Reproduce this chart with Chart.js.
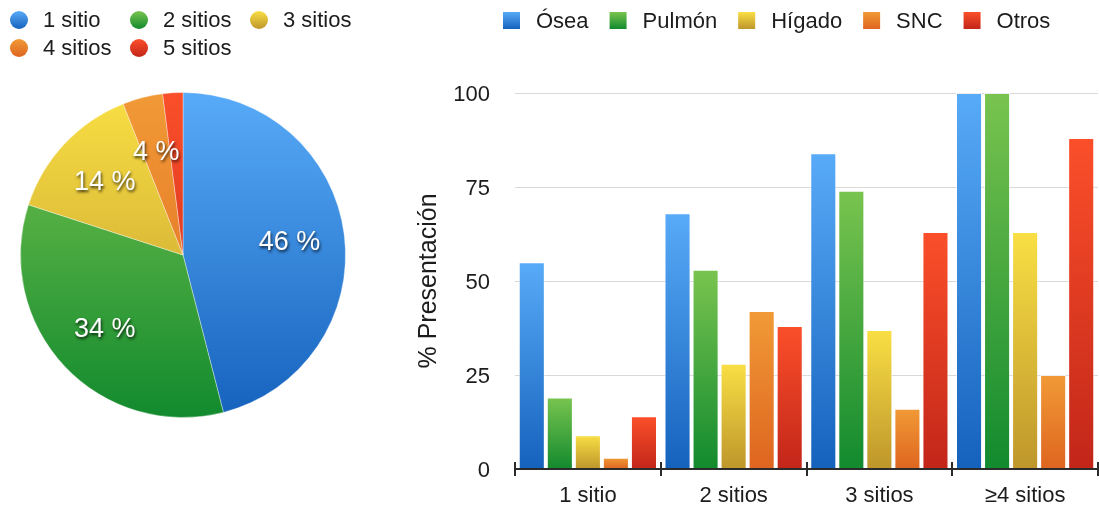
<!DOCTYPE html>
<html>
<head>
<meta charset="utf-8">
<script src="https://cdn.jsdelivr.net/npm/chart.js@4.4.1/dist/chart.umd.min.js"></script>
<style>
  html, body { margin: 0; padding: 0; background: #ffffff; }
  #wrap { position: relative; width: 1099px; height: 510px; overflow: hidden; }
  #pieBox { position: absolute; left: 0; top: 0; width: 370px; height: 510px; }
  #barBox { position: absolute; left: 370px; top: 0; width: 729px; height: 510px; }
</style>
</head>
<body>
<div id="wrap">
  <div id="pieBox"><canvas id="pie" width="370" height="510"></canvas></div>
  <div id="barBox"><canvas id="bar" width="729" height="510"></canvas></div>
</div>
<script>
// ---- data ----
const siteLabels = ['1 sitio', '2 sitios', '3 sitios', '4 sitios', '5 sitios'];
const siteShares = [46, 34, 14, 4, 2];
const minLabelShare = 3;

const groupLabels = ['1 sitio', '2 sitios', '3 sitios', '≥4 sitios'];
const organNames = ['Ósea', 'Pulmón', 'Hígado', 'SNC', 'Otros'];
const osea   = [55, 68, 84, 100];
const pulmon = [19, 53, 74, 100];
const higado = [9, 28, 37, 63];
const snc    = [3, 42, 16, 25];
const otros  = [14, 38, 63, 88];
const yTicks = [0, 25, 50, 75, 100];

// ---- styling ----
const FONT = '"Liberation Sans", Arial, Helvetica, sans-serif';
const INK = '#1c1c1c';
// light (top) / dark (bottom) pairs for the glossy vertical fills
const palette = [
  ['#58abf8', '#1562bd'],
  ['#79c44f', '#128a2e'],
  ['#f9df44', '#be962b'],
  ['#f19a36', '#de6520'],
  ['#fb4f2a', '#c22619']
];

function vGrad(ctx, y0, y1, pair) {
  if (!isFinite(y0) || !isFinite(y1) || y0 === y1) return pair[1];
  const g = ctx.createLinearGradient(0, y0, 0, y1);
  g.addColorStop(0, pair[0]);
  g.addColorStop(1, pair[1]);
  return g;
}

// ---- pie: site count distribution ----
const pieLegendPlugin = {
  id: 'pieLegend',
  afterDraw(chart) {
    const ctx = chart.ctx;
    ctx.save();
    ctx.font = '22px ' + FONT;
    ctx.textBaseline = 'middle';
    ctx.textAlign = 'left';
    siteLabels.forEach((lab, i) => {
      const col = i % 3, row = Math.floor(i / 3);
      const cx = 19 + col * 120, cy = 20 + row * 28;
      ctx.beginPath();
      ctx.arc(cx, cy, 9, 0, Math.PI * 2);
      ctx.fillStyle = vGrad(ctx, cy - 9, cy + 9, palette[i]);
      ctx.fill();
      ctx.fillStyle = INK;
      ctx.fillText(lab, cx + 24, cy + 1);
    });
    ctx.restore();
  }
};

const pieValuePlugin = {
  id: 'pieValues',
  afterDatasetsDraw(chart) {
    const ctx = chart.ctx;
    const meta = chart.getDatasetMeta(0);
    ctx.save();
    ctx.font = '27px ' + FONT;
    ctx.fillStyle = '#ffffff';
    ctx.textAlign = 'center';
    ctx.textBaseline = 'middle';
    ctx.shadowColor = 'rgba(0,0,0,0.75)';
    ctx.shadowBlur = 3;
    ctx.shadowOffsetX = 1;
    ctx.shadowOffsetY = 2;
    meta.data.forEach((arc, i) => {
      const v = chart.data.datasets[0].data[i];
      if (v < minLabelShare) return;
      const p = arc.getProps(['x', 'y', 'startAngle', 'endAngle', 'outerRadius'], true);
      const mid = (p.startAngle + p.endAngle) / 2;
      const r = p.outerRadius * 0.66;
      ctx.fillText(v + ' %', p.x + Math.cos(mid) * r, p.y + Math.sin(mid) * r + 1);
    });
    ctx.restore();
  }
};

new Chart(document.getElementById('pie'), {
  type: 'pie',
  data: {
    labels: siteLabels,
    datasets: [{
      data: siteShares,
      backgroundColor: (c) => {
        const a = c.chart.chartArea;
        const pair = palette[c.dataIndex % palette.length];
        if (!a) return pair[1];
        return vGrad(c.chart.ctx, a.top, a.bottom, pair);
      },
      borderColor: 'rgba(255,255,255,0.35)',
      borderWidth: 1
    }]
  },
  options: {
    responsive: false,
    animation: false,
    devicePixelRatio: 1,
    layout: { padding: { left: 20, right: 24, top: 92, bottom: 92 } },
    plugins: { legend: { display: false }, tooltip: { enabled: false } }
  },
  plugins: [pieLegendPlugin, pieValuePlugin]
});

// ---- bars: presentation by organ ----
const organSeries = [osea, pulmon, higado, snc, otros];

const barLegendPlugin = {
  id: 'barLegend',
  afterDraw(chart) {
    const ctx = chart.ctx;
    ctx.save();
    ctx.font = '22px ' + FONT;
    ctx.textBaseline = 'middle';
    ctx.textAlign = 'left';
    let x = 503 - 370;
    const top = 12, size = 17;
    chart.data.datasets.forEach((ds, i) => {
      ctx.fillStyle = vGrad(ctx, top, top + size, palette[i]);
      ctx.fillRect(x, top, size, size);
      const tx = x + 33;
      ctx.fillStyle = INK;
      ctx.fillText(ds.label, tx, top + size / 2 + 1);
      x = tx + ctx.measureText(ds.label).width + 21;
    });
    ctx.restore();
  }
};

const axisLinePlugin = {
  id: 'axisLine',
  afterDatasetsDraw(chart) {
    const ctx = chart.ctx;
    const xs = chart.scales.x;
    const y0 = chart.scales.y.getPixelForValue(0);
    const n = chart.data.labels.length;
    ctx.save();
    ctx.strokeStyle = '#2b2b2b';
    ctx.lineWidth = 2;
    ctx.beginPath();
    ctx.moveTo(xs.left, y0);
    ctx.lineTo(xs.right, y0);
    for (let i = 0; i <= n; i++) {
      const bx = Math.round(xs.left + i * (xs.right - xs.left) / n);
      ctx.moveTo(bx, y0 - 7);
      ctx.lineTo(bx, y0 + 7);
    }
    ctx.stroke();
    ctx.restore();
  }
};

new Chart(document.getElementById('bar'), {
  type: 'bar',
  data: {
    labels: groupLabels,
    datasets: organNames.map((name, i) => ({
      label: name,
      data: organSeries[i],
      backgroundColor: (c) => {
        const pair = palette[i];
        const ch = c.chart;
        const ys = ch.scales && ch.scales.y;
        if (!ch.chartArea || !ys || c.raw === undefined) return pair[1];
        return vGrad(ch.ctx, ys.getPixelForValue(c.raw), ys.getPixelForValue(0), pair);
      },
      borderColor: 'rgba(255,255,255,0.55)',
      borderWidth: 1,
      categoryPercentage: 0.962,
      barPercentage: 0.93
    }))
  },
  options: {
    responsive: false,
    animation: false,
    devicePixelRatio: 1,
    layout: { padding: { left: 0, right: 1, top: 93, bottom: 0 } },
    plugins: { legend: { display: false }, tooltip: { enabled: false } },
    scales: {
      x: {
        grid: { display: false, drawTicks: false },
        border: { display: false },
        ticks: { color: INK, font: { family: FONT, size: 22 }, padding: 14 },
        afterFit: (s) => { s.height = 41; }
      },
      y: {
        min: yTicks[0],
        max: yTicks[yTicks.length - 1],
        afterBuildTicks: (s) => { s.ticks = yTicks.map(v => ({ value: v })); },
        grid: { color: '#d9d9d9', lineWidth: 1, drawTicks: false },
        border: { display: false },
        ticks: { color: INK, font: { family: FONT, size: 22 }, padding: 25, labelOffset: 2 },
        title: {
          display: true,
          text: '% Presentación',
          color: INK,
          font: { family: FONT, size: 25 },
          padding: { top: 44, bottom: 0 }
        },
        afterFit: (s) => { s.width = 145; }
      }
    }
  },
  plugins: [barLegendPlugin, axisLinePlugin]
});
</script>
</body>
</html>
